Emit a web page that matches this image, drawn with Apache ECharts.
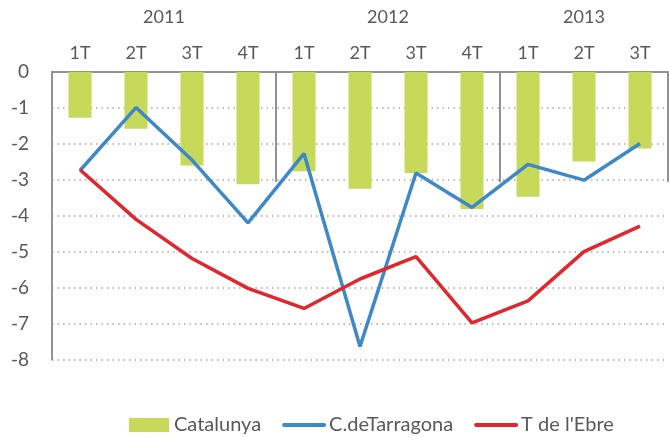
<!DOCTYPE html>
<html lang="es">
<head>
    <meta charset="utf-8">
    <title>chart</title>
    <script src="https://cdn.jsdelivr.net/npm/echarts@6/dist/echarts.min.js"></script>
    <style>
        html, body { margin: 0; padding: 0; background: #fff; }
        #chart { width: 669px; height: 437px; }
    </style>
</head>
<body>
<div id="chart"></div>
<script>
    var quarters = ['1T', '2T', '3T', '4T', '1T', '2T', '3T', '4T', '1T', '2T', '3T'];
    var years = ['2011', '2012', '2013'];
    var quartersPerYear = [4, 4, 3];
    var yTicks = [-8, 0, 1];   // min, max, step

    var catalunya = [-1.27, -1.58, -2.6, -3.12, -2.76, -3.25, -2.81, -3.81, -3.47, -2.49, -2.13];
    var tarragona = [-2.74, -0.99, -2.45, -4.2, -2.27, -7.64, -2.81, -3.77, -2.57, -3.01, -1.99];
    var ebre = [-2.72, -4.1, -5.19, -6.02, -6.58, -5.76, -5.14, -6.98, -6.37, -5.0, -4.29];

    // year axis: half-quarter slots so labels sit in the middle of each year
    var yearLabelAt = {};
    var yearEdgeAt = { 0: true };
    var k = 0;
    years.forEach(function (y, i) {
        var n = quartersPerYear[i] * 2;
        yearLabelAt[k + n / 2] = y;
        k += n;
        yearEdgeAt[k] = true;
    });
    var yearSlots = [];
    for (var j = 0; j <= k; j++) yearSlots.push(yearLabelAt[j] || '');

    var grey = '#595959';
    var lineGrey = '#929292';
    var font = 'Lato, "Noto Sans", sans-serif';

    var chart = echarts.init(document.getElementById('chart'));
    chart.setOption({
        animation: false,
        textStyle: { fontFamily: font, color: grey },
        grid: [
            { left: 52, right: 1, top: 72, bottom: 77.5 },
            { left: 52, right: 1, top: 72, height: 110 }
        ],
        legend: {
            left: 124,
            top: 410,
            itemWidth: 40,
            itemHeight: 14,
            itemGap: 21,
            textStyle: { fontSize: 20, color: grey, fontFamily: font },
            data: [
                { name: 'Catalunya', icon: 'rect' },
                { name: 'C.deTarragona', itemStyle: { opacity: 0 }, lineStyle: { width: 4, cap: 'round' } },
                { name: "T de l'Ebre", itemStyle: { opacity: 0 }, lineStyle: { width: 4, cap: 'round' } }
            ]
        },
        xAxis: [
            {
                type: 'category',
                gridIndex: 0,
                position: 'top',
                data: quarters,
                axisLine: { show: true, lineStyle: { color: lineGrey, width: 2 } },
                axisTick: { show: false },
                axisLabel: { margin: 10, fontSize: 18, color: grey, fontFamily: font },
                splitLine: { show: false }
            },
            {
                type: 'category',
                gridIndex: 1,
                position: 'top',
                boundaryGap: false,
                data: yearSlots,
                axisLine: { show: false },
                axisTick: {
                    show: true,
                    length: 40,
                    interval: function (idx) { return !!yearEdgeAt[idx]; },
                    lineStyle: { color: lineGrey, width: 2 }
                },
                axisLabel: {
                    margin: 46,
                    fontSize: 18,
                    color: grey,
                    fontFamily: font,
                    interval: function (idx, val) { return val !== ''; }
                },
                splitLine: {
                    show: true,
                    interval: function (idx) { return !!yearEdgeAt[idx]; },
                    lineStyle: { color: lineGrey, width: 2 }
                }
            }
        ],
        yAxis: [
            {
                type: 'value',
                gridIndex: 0,
                min: yTicks[0],
                max: yTicks[1],
                interval: yTicks[2],
                axisLine: { show: true, lineStyle: { color: lineGrey, width: 2 } },
                axisTick: { show: false },
                axisLabel: { margin: 23, fontSize: 19, color: grey, fontFamily: font },
                splitLine: { show: true, lineStyle: { color: '#a8a8a8', width: 1.5, type: [1.5, 4] } }
            },
            { type: 'value', gridIndex: 1, show: false, min: 0, max: 1 }
        ],
        series: [
            {
                name: 'Catalunya',
                type: 'bar',
                data: catalunya,
                barWidth: 23,
                itemStyle: { color: '#c6d95a' }
            },
            {
                name: 'C.deTarragona',
                type: 'line',
                data: tarragona,
                symbol: 'none',
                lineStyle: { color: '#3f88c8', width: 3.5 },
                itemStyle: { color: '#3f88c8' }
            },
            {
                name: "T de l'Ebre",
                type: 'line',
                data: ebre,
                symbol: 'none',
                lineStyle: { color: '#e1262d', width: 3.5 },
                itemStyle: { color: '#e1262d' }
            }
        ]
    });
</script>
</body>
</html>
